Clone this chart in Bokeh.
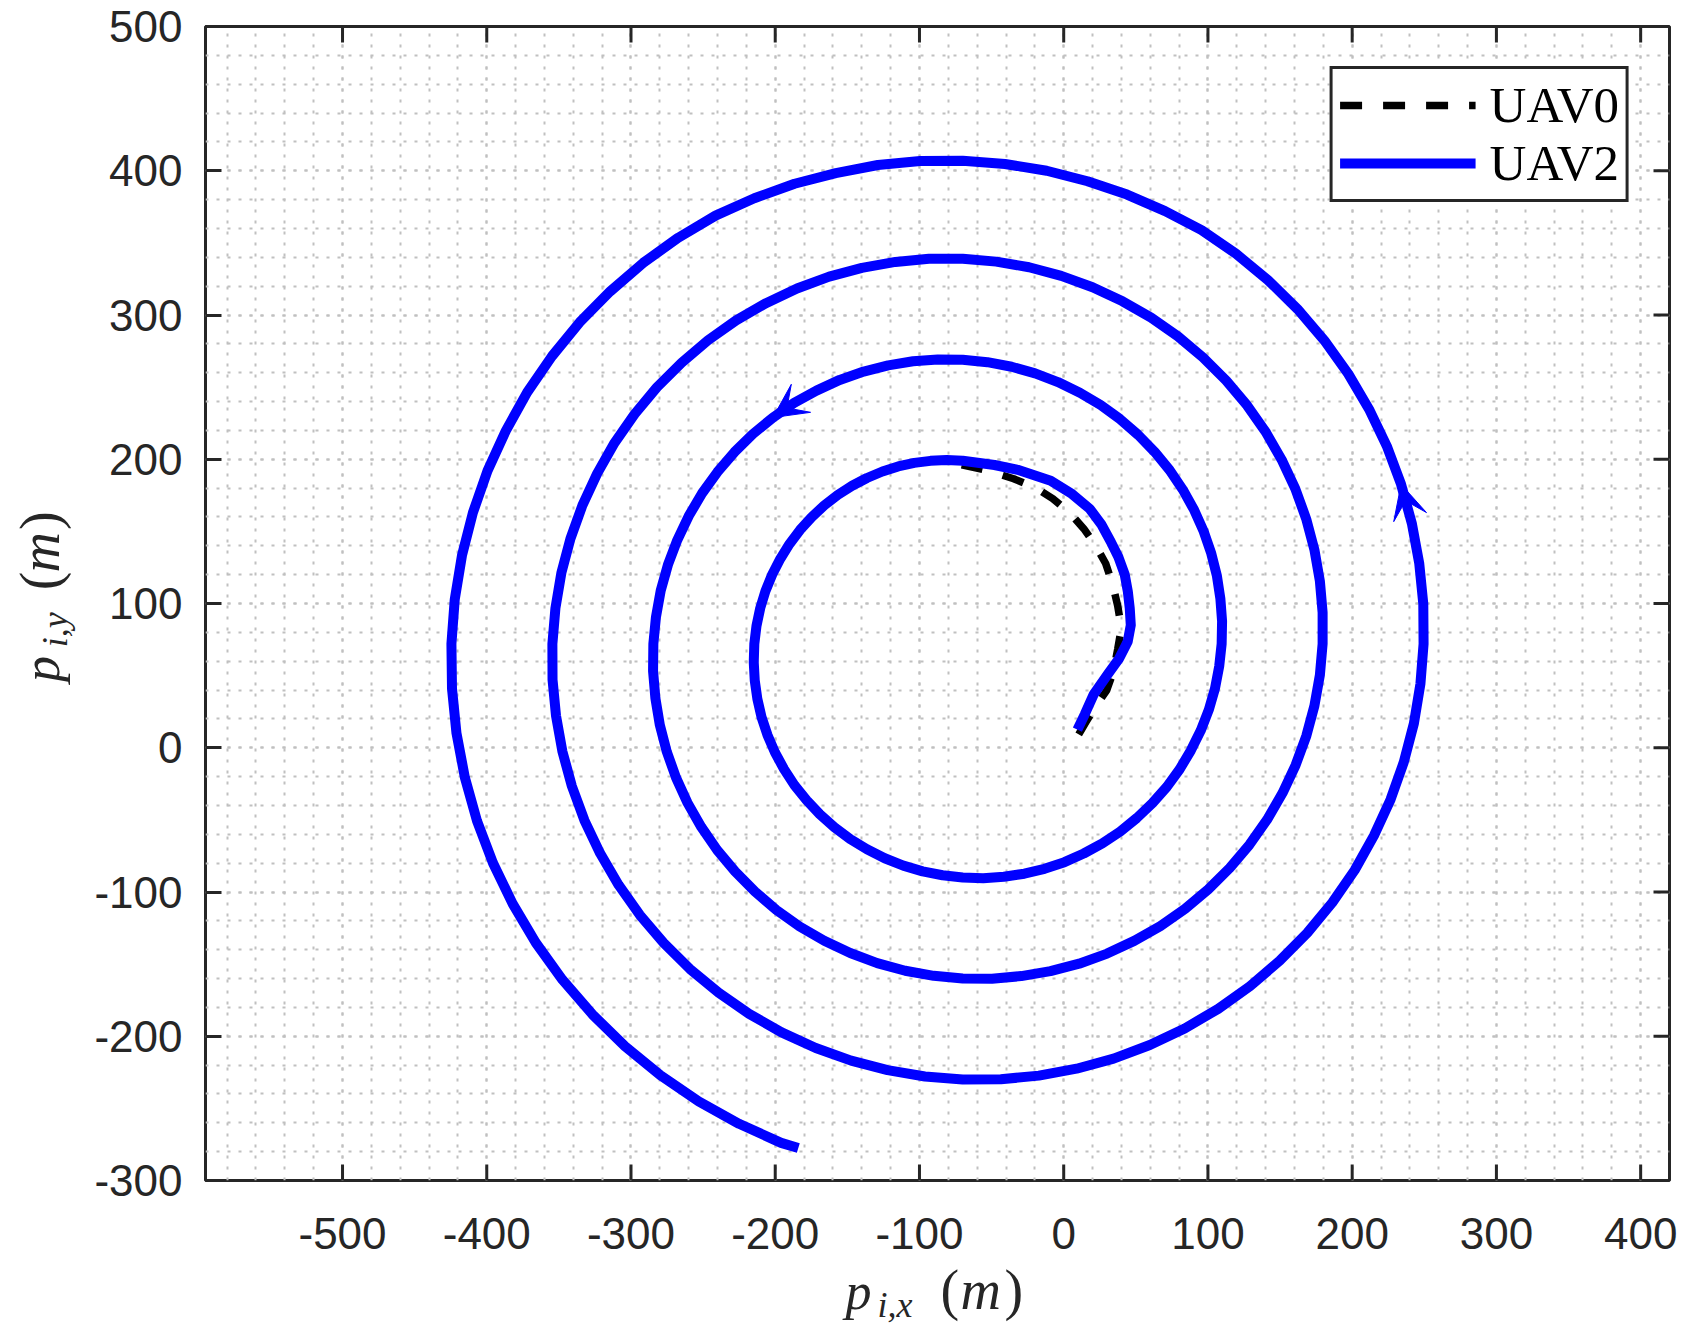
from bokeh.plotting import figure
from bokeh.layouts import column, row
from bokeh.models import Range1d, SingleIntervalTicker, Legend, LegendItem, Arrow, VeeHead
from bokeh.core.properties import value
from bokeh.embed import file_html
from bokeh.resources import INLINE

# ---------------- data ----------------
uav0_x = [10.4, 15.5, 22.0, 29.8, 34.5, 37.4, 40.0, 37.4, 34.0, 29.1, 22.0, 13.9, 4.0, -7.6,
          -20.0, -34.7, -52.0, -70.7]
uav0_y = [9.3, 18.0, 28.5, 39.8, 53.0, 68.2, 83.0, 98.6, 113.0, 127.7, 140.5, 151.9, 163.0,
          172.7, 180.5, 186.5, 192.0, 196.2]

uav2_x = [9.5, 14.6, 20.8, 30.5, 38.5, 44.4, 46.5, 45.8, 44.5, 42.3, 38.0, 32.6, 26.0, 18.0,
          5.0, -9.0, -31.9, -48.0,
          -70.0, -81.2, -92.4, -103.6, -114.8, -125.7, -136.4, -146.7, -156.6, -166.0,
          -174.7, -182.8, -190.1, -196.5, -202.1, -206.8, -210.4, -213.0, -214.5, -214.9,
          -214.2, -212.4, -209.5, -205.4, -200.2, -193.9, -186.7, -178.3, -169.1, -159.0,
          -148.1, -136.4, -124.1, -111.2, -97.8, -84.0, -70.0, -55.8, -41.5, -27.3,
          -13.3, 0.5, 13.9, 26.8, 39.1, 50.7, 61.5, 71.5, 80.4, 88.2,
          95.0, 100.6, 104.9, 107.8, 109.5, 109.8, 108.6, 106.2, 102.3, 97.1,
          90.5, 82.6, 73.5, 63.1, 51.6, 39.1, 25.6, 11.2, -4.0, -19.8,
          -36.1, -52.9, -70.0, -87.3, -104.5, -121.7, -138.7, -155.3, -171.4, -186.9,
          -201.6, -215.5, -228.3, -240.1, -250.7, -260.0, -267.9, -274.4, -279.4, -282.7,
          -284.5, -284.7, -283.1, -280.0, -275.2, -268.8, -260.8, -251.3, -240.3, -227.8,
          -214.1, -199.2, -183.1, -166.0, -148.0, -129.3, -109.9, -90.1, -70.0, -49.7,
          -29.4, -9.2, 10.7, 30.1, 48.9, 67.0, 84.1, 100.2, 115.1, 128.8,
          141.0, 151.7, 160.8, 168.2, 173.8, 177.6, 179.5, 179.5, 177.6, 173.8,
          168.1, 160.6, 151.1, 140.0, 127.1, 112.6, 96.6, 79.2, 60.6, 40.8,
          20.0, -1.7, -24.0, -46.8, -70.0, -93.4, -116.7, -139.9, -162.6, -184.9,
          -206.4, -227.1, -246.6, -264.9, -282.0, -297.5, -311.4, -323.4, -333.7, -342.0,
          -348.3, -352.4, -354.5, -354.4, -352.0, -347.6, -341.0, -332.3, -321.4, -308.6,
          -293.9, -277.3, -259.1, -239.3, -218.1, -195.6, -171.9, -147.4, -122.1, -96.2,
          -70.0, -43.6, -17.2, 8.9, 34.6, 59.7, 83.9, 107.1, 129.1, 149.7,
          168.8, 186.2, 201.7, 215.1, 226.6, 235.8, 242.8, 247.3, 249.5, 249.3,
          246.5, 241.4, 233.9, 224.0, 211.7, 197.3, 180.7, 162.1, 141.6, 119.4,
          95.6, 70.3, 43.9, 16.5, -11.8, -40.7, -70.0, -99.5, -128.8, -158.0,
          -186.6, -214.5, -241.4, -267.2, -291.6, -314.4, -335.6, -354.8, -372.0, -386.8,
          -399.5, -409.6, -417.2, -422.2, -424.5, -424.1, -421.0, -415.2, -406.8, -395.7,
          -382.0, -366.0, -347.5, -326.8, -304.1, -279.5, -253.1, -225.1, -195.9, -184.0]
uav2_y = [12.5, 23.2, 37.0, 50.9, 62.0, 73.7, 85.0, 96.5, 108.0, 120.1, 132.0, 142.9, 155.0,
          165.7, 176.5, 185.1, 192.7, 196.0,
          199.0, 199.5, 198.9, 197.5, 195.0, 191.5, 187.0, 181.6, 175.3, 168.0,
          159.9, 151.0, 141.3, 131.0, 120.1, 108.6, 96.8, 84.5, 72.0, 59.3,
          46.6, 33.9, 21.2, 8.9, -3.2, -14.8, -25.9, -36.3, -46.1, -55.1,
          -63.3, -70.4, -76.6, -81.7, -85.7, -88.4, -90.0, -90.4, -89.4, -87.3,
          -83.9, -79.3, -73.3, -66.3, -58.1, -48.7, -38.4, -27.1, -14.9, -1.8,
          11.9, 26.3, 41.2, 56.4, 72.0, 87.7, 103.5, 119.2, 134.7, 149.9,
          164.7, 178.9, 192.4, 205.1, 216.9, 227.8, 237.6, 246.1, 253.5, 259.5,
          264.1, 267.3, 269.0, 269.2, 267.9, 265.1, 260.8, 255.0, 247.6, 239.0,
          228.9, 217.5, 204.9, 191.1, 176.4, 160.6, 144.0, 126.8, 108.9, 90.6,
          72.0, 53.2, 34.4, 15.7, -2.7, -20.7, -38.2, -54.9, -70.9, -85.8,
          -99.7, -112.5, -123.9, -133.8, -142.3, -149.3, -154.6, -158.1, -160.0, -160.1,
          -158.3, -154.9, -149.7, -142.7, -133.9, -123.6, -111.7, -98.2, -83.4, -67.2,
          -49.9, -31.4, -12.0, 8.2, 29.0, 50.3, 72.0, 93.8, 115.6, 137.3,
          158.7, 179.5, 199.7, 219.0, 237.4, 254.6, 270.5, 285.2, 298.2, 309.5,
          319.2, 327.1, 333.1, 337.0, 339.0, 339.0, 336.8, 332.7, 326.6, 318.4,
          308.2, 296.3, 282.5, 266.9, 249.9, 231.3, 211.4, 190.2, 168.0, 144.9,
          121.1, 96.7, 72.0, 47.1, 22.3, -2.4, -26.6, -50.3, -73.2, -95.1,
          -115.9, -135.3, -153.4, -169.8, -184.5, -197.3, -208.1, -216.9, -223.5, -227.9,
          -230.0, -229.8, -227.3, -222.5, -215.5, -206.1, -194.6, -181.0, -165.3, -147.7,
          -128.4, -107.4, -84.9, -60.9, -35.9, -9.9, 16.9, 44.2, 72.0, 99.9,
          127.8, 155.4, 182.6, 209.1, 234.7, 259.2, 282.4, 304.1, 324.2, 342.5,
          358.8, 372.0, 383.5, 392.7, 400.0, 404.7, 407.0, 406.7, 404.0, 398.3,
          391.0, 380.9, 368.9, 353.6, 336.1, 316.4, 294.9, 271.4, 246.4, 219.7,
          191.9, 163.0, 133.2, 102.8, 72.0, 41.0, 10.1, -20.5, -50.6, -79.9,
          -108.2, -135.2, -160.9, -184.8, -207.0, -227.2, -245.1, -260.7, -273.9, -277.5]

arrow_at = [98, 220]          # indices of UAV2 points that carry a direction arrow
series_labels = ["UAV0", "UAV2"]
x_ticks = [-500, -400, -300, -200, -100, 0, 100, 200, 300, 400]
y_ticks = [-300, -200, -100, 0, 100, 200, 300, 400, 500]
x_tick_labels = ["-500", "-400", "-300", "-200", "-100", "0", "100", "200", "300", "400"]
y_tick_labels = ["-300", "-200", "-100", "0", "100", "200", "300", "400", "500"]
x_lim = (-595, 420)
y_lim = (-300, 500)

# ---------------- geometry (pixels) ----------------
AX = "#262626"
GRID = "#c0c0c0"
BLUE = "#0000ff"

YLAB_W = 88                      # left strip holding the y-axis title
MAIN_W, MAIN_H = 1600, 1207      # main plot
BL, BR, BT, BB = 117, 19, 26, 27
XLAB_H = 127                     # bottom strip holding x tick labels + x-axis title
TICK_PX = 16
TOTAL_W = YLAB_W + MAIN_W

frame_w = MAIN_W - BL - BR
frame_h = MAIN_H - BT - BB
sx = frame_w / (x_lim[1] - x_lim[0])          # px per data unit (x)
sy = frame_h / (y_lim[1] - y_lim[0])          # px per data unit (y)
tick_dx = TICK_PX / sx
tick_dy = TICK_PX / sy

p = figure(width=MAIN_W, height=MAIN_H, x_range=Range1d(*x_lim), y_range=Range1d(*y_lim),
           output_backend="svg", toolbar_location=None, title=None,
           min_border_left=BL, min_border_right=BR, min_border_top=BT, min_border_bottom=BB)
p.background_fill_color = "white"
p.border_fill_color = "white"
p.outline_line_color = AX
p.outline_line_width = 3

xt = SingleIntervalTicker(interval=100, num_minor_ticks=5)
yt = SingleIntervalTicker(interval=100, num_minor_ticks=5)
p.xaxis.ticker = xt
p.xaxis.visible = False
p.yaxis.ticker = yt
ax = p.yaxis[0]
ax.axis_line_color = None
ax.major_tick_in = TICK_PX
ax.major_tick_out = 0
ax.major_tick_line_width = 3
ax.major_tick_line_color = AX
ax.minor_tick_line_color = None
ax.major_label_text_font = "Liberation Sans"
ax.major_label_text_font_size = "44px"
ax.major_label_text_color = AX
ax.major_label_overrides = dict(zip(y_ticks, y_tick_labels))
ax.major_label_standoff = 19

for g, t in ((p.xgrid, xt), (p.ygrid, yt)):
    g.ticker = t
    g.grid_line_color = GRID
    g.grid_line_dash = "3 8"
    g.grid_line_width = 2
    g.minor_grid_line_color = GRID
    g.minor_grid_line_dash = "3 8"
    g.minor_grid_line_width = 2

# x ticks on bottom and top edges, y ticks mirrored on right edge
nx, ny = len(x_ticks), len(y_ticks)
p.segment(x0=x_ticks, y0=[y_lim[0]] * nx, x1=x_ticks, y1=[y_lim[0] + tick_dy] * nx,
          line_color=AX, line_width=3)
p.segment(x0=x_ticks, y0=[y_lim[1]] * nx, x1=x_ticks, y1=[y_lim[1] - tick_dy] * nx,
          line_color=AX, line_width=3)
p.segment(x0=[x_lim[1]] * ny, y0=y_ticks, x1=[x_lim[1] - tick_dx] * ny, y1=y_ticks,
          line_color=AX, line_width=3)

# ---------------- data lines ----------------
r0 = p.line(uav0_x, uav0_y, line_color="black", line_width=7.5, line_dash="22 21")
r2 = p.line(uav2_x, uav2_y, line_color=BLUE, line_width=10, line_join="round")

for i in arrow_at:
    p.add_layout(Arrow(end=VeeHead(size=34, fill_color=BLUE, line_color=BLUE, line_width=1),
                       x_start=uav2_x[i - 1], y_start=uav2_y[i - 1],
                       x_end=uav2_x[i], y_end=uav2_y[i], line_alpha=0))

legend = Legend(items=[LegendItem(label=series_labels[0], renderers=[r0]),
                       LegendItem(label=series_labels[1], renderers=[r2])],
                location="top_right")
legend.label_text_font = "Liberation Serif"
legend.label_text_font_size = "51px"
legend.label_text_color = "black"
legend.glyph_width = 136
legend.glyph_height = 48
legend.label_height = 48
legend.label_standoff = 14
legend.padding = 7
legend.spacing = 0
legend.margin = 40
legend.border_line_color = AX
legend.border_line_width = 3
legend.border_line_alpha = 1
legend.background_fill_alpha = 1
p.add_layout(legend)

# ---------------- strips with text ----------------
def strip(w, h, xr):
    f = figure(width=w, height=h, x_range=xr, y_range=Range1d(0, h),
               x_axis_type=None, y_axis_type=None, title=None,
               output_backend="svg", toolbar_location=None, min_border=0)
    f.outline_line_color = None
    f.background_fill_color = "white"
    f.border_fill_color = "white"
    return f

def put(f, x, y, txt, size, style="italic", angle=0.0, align="left", base="middle",
        font="Liberation Serif"):
    f.text(x=[x], y=[y], text=[txt], text_font=value(font),
           text_font_style=style, text_font_size=size, text_color=AX,
           text_align=align, text_baseline=base, angle=angle)

# bottom strip: same x scale as the main plot, extended to the full width
x_lo = x_lim[0] - (YLAB_W + BL) / sx
fx = strip(TOTAL_W, XLAB_H, Range1d(x_lo, x_lo + TOTAL_W / sx))
fx.text(x=x_ticks, y=[101] * nx, text=x_tick_labels, text_font=value("Liberation Sans"),
        text_font_size="44px", text_color=AX, text_align="center", text_baseline="middle")

def px(xpix):  # horizontal pixel in the strip -> strip data coordinate
    return x_lo + xpix / sx

put(fx, px(845), 43, "p", "52px")
put(fx, px(877), 30, "i,x", "36px")
put(fx, px(940), 44.5, "(", "56px", "normal")
put(fx, px(960), 44.5, "m", "56px")
put(fx, px(1004), 44.5, ")", "56px", "normal")

# left strip: rotated y-axis title, pieces anchored at their centres
fy = strip(YLAB_W, MAIN_H, Range1d(0, YLAB_W))
A = 1.5707963
put(fy, 40.5, MAIN_H - 672, "p", "52px", angle=A, align="center")
put(fy, 54, MAIN_H - 631, "i,y", "36px", angle=A, align="center")
put(fy, 39, MAIN_H - 580, "(", "56px", "normal", angle=A, align="center")
put(fy, 39, MAIN_H - 550, "m", "56px", angle=A, align="center")
put(fy, 39, MAIN_H - 517, ")", "56px", "normal", angle=A, align="center")

layout = column(row(fy, p), fx)
open("out.html", "w").write(file_html(layout, INLINE))
